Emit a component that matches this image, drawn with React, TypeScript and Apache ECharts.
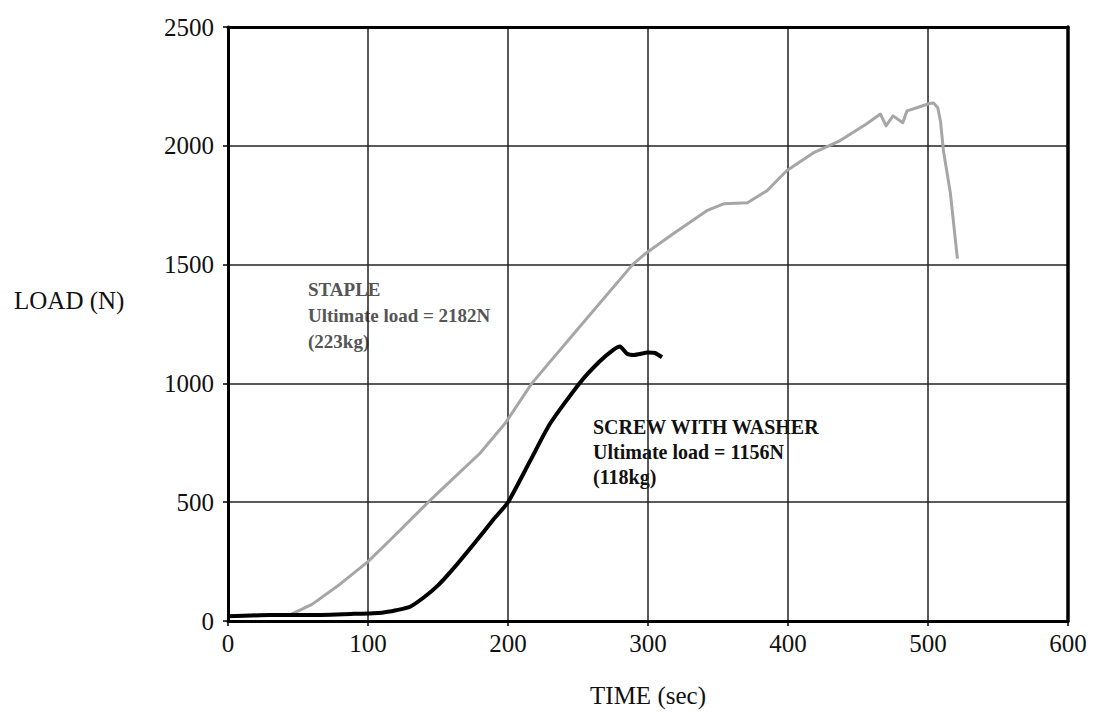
import React, { useEffect, useRef } from "react";
import * as echarts from "echarts";

const xTicks = [0, 100, 200, 300, 400, 500, 600];
const yTicks = [0, 500, 1000, 1500, 2000, 2500];

const stapleTime = [0, 20, 45, 60, 80, 100, 120, 143, 160, 180, 198, 217, 250, 289, 298, 318, 342, 354, 371, 385, 399, 418, 437, 456, 466, 470, 475, 482, 485, 492, 501, 504, 507, 509, 511, 516, 521];
const stapleLoad = [20, 22, 28, 70, 155, 250, 365, 500, 595, 706, 832, 1000, 1230, 1500, 1546, 1630, 1727, 1756, 1760, 1811, 1895, 1970, 2021, 2092, 2134, 2084, 2126, 2097, 2147, 2160, 2178, 2180, 2160, 2100, 1980, 1800, 1525];

const screwTime = [0, 30, 60, 90, 110, 120, 130, 140, 150, 160, 175, 190, 200, 216, 230, 251, 265, 275, 280, 285, 290, 300, 305, 310];
const screwLoad = [20, 25, 25, 30, 35, 45, 60, 100, 150, 214, 320, 430, 500, 676, 830, 1000, 1090, 1140, 1155, 1125, 1120, 1130, 1128, 1110];

const stapleLabel = ["STAPLE", "Ultimate load = 2182N", "(223kg)"];
const screwLabel = ["SCREW WITH WASHER", "Ultimate load = 1156N", "(118kg)"];

const FONT = "'Liberation Serif', 'Times New Roman', serif";

export default function App() {
  const ref = useRef<HTMLDivElement>(null);
  useEffect(() => {
    if (!ref.current) return;
    const chart = echarts.init(ref.current, null, { renderer: "svg" });
    const zip = (a: number[], b: number[]) => a.map((v, i) => [v, b[i]]);
    const xMin = xTicks[0];
    const xMax = xTicks[xTicks.length - 1];
    const yMin = yTicks[0];
    const yMax = yTicks[yTicks.length - 1];
    chart.setOption({
      animation: false,
      backgroundColor: "#ffffff",
      grid: {
        left: 228,
        right: 25,
        top: 27,
        bottom: 94,
        show: false,
      },
      xAxis: [
        {
          type: "value",
          min: xMin,
          max: xMax,
          interval: 100,
          name: "TIME (sec)",
          nameLocation: "middle",
          nameGap: 62,
          nameTextStyle: { fontFamily: FONT, fontSize: 25, color: "#111" },
          axisLine: { show: true, onZero: false, lineStyle: { color: "#000", width: 3 } },
          axisTick: { show: true, length: 5, lineStyle: { color: "#000", width: 1.5 } },
          axisLabel: { fontFamily: FONT, fontSize: 25, color: "#111", margin: 10 },
          splitLine: { show: true, lineStyle: { color: "#222", width: 1.5 } },
        },
        {
          type: "value",
          position: "top",
          min: xMin,
          max: xMax,
          interval: 100,
          axisLine: { show: true, onZero: false, lineStyle: { color: "#000", width: 3 } },
          axisTick: { show: false },
          axisLabel: { show: false },
          splitLine: { show: false },
        },
      ],
      yAxis: [
        {
          type: "value",
          min: yMin,
          max: yMax,
          interval: 500,
          axisLine: { show: true, onZero: false, lineStyle: { color: "#000", width: 3 } },
          axisTick: { show: true, length: 5, lineStyle: { color: "#000", width: 1.5 } },
          axisLabel: {
            fontFamily: FONT,
            fontSize: 25,
            color: "#111",
            margin: 14,
            formatter: (v: number) => String(v),
          },
          splitLine: { show: true, lineStyle: { color: "#222", width: 1.5 } },
        },
        {
          type: "value",
          position: "right",
          min: yMin,
          max: yMax,
          interval: 500,
          axisLine: { show: true, onZero: false, lineStyle: { color: "#000", width: 3.5 } },
          axisTick: { show: false },
          axisLabel: { show: false },
          splitLine: { show: false },
        },
      ],
      series: [
        {
          name: "STAPLE",
          type: "line",
          data: zip(stapleTime, stapleLoad),
          showSymbol: false,
          smooth: false,
          lineStyle: { color: "#a6a6a6", width: 3, join: "round" },
          z: 3,
        },
        {
          name: "SCREW WITH WASHER",
          type: "line",
          data: zip(screwTime, screwLoad),
          showSymbol: false,
          smooth: 0.2,
          lineStyle: { color: "#000", width: 4, join: "round" },
          z: 4,
        },
      ],
      graphic: [
        {
          type: "text",
          left: 14,
          top: 288,
          style: { text: "LOAD (N)", fontFamily: FONT, fontSize: 25, fill: "#111" },
        },
        ...stapleLabel.map((t, i) => ({
          type: "text",
          left: 308,
          top: 280 + i * 26,
          style: { text: t, fontFamily: FONT, fontSize: 19, fontWeight: "bold", fill: "#555" },
        })),
        ...screwLabel.map((t, i) => ({
          type: "text",
          left: 593,
          top: 417 + i * 25,
          style: { text: t, fontFamily: FONT, fontSize: 20, fontWeight: "bold", fill: "#111" },
        })),
      ],
    });
    return () => chart.dispose();
  }, []);
  return <div ref={ref} style={{ width: 1093, height: 715, position: "absolute", left: 0, top: 0 }} />;
}
